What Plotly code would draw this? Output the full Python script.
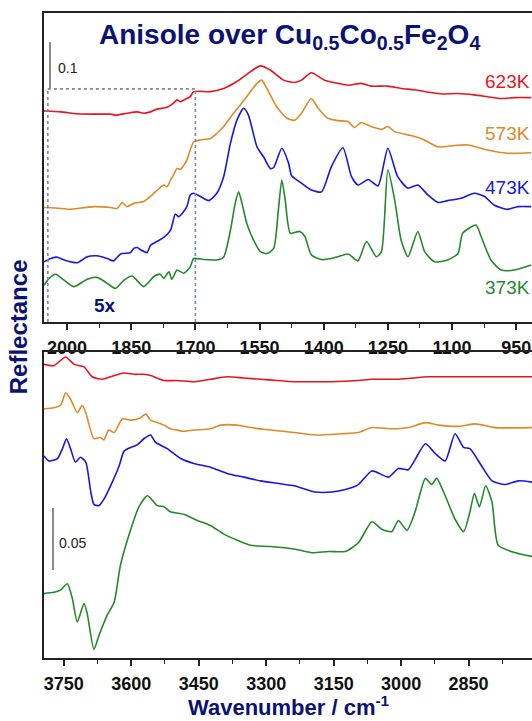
import plotly.graph_objects as go

# ---------------- fingerprint region (top panel) ----------------
wn_top_623 = [2054, 2015, 1976, 1937, 1898, 1887, 1860, 1836, 1821, 1805, 1790, 1766, 1751, 1743, 1735,
              1727, 1720, 1712, 1704, 1665, 1634, 1603, 1572, 1548, 1525, 1494, 1468, 1452, 1429, 1398,
              1367, 1343, 1312, 1289, 1250, 1219, 1188, 1149, 1125, 1087, 1048, 1017, 985, 954, 915]
r_top_623 = [0.459, 0.457, 0.453, 0.452, 0.452, 0.450, 0.454, 0.457, 0.454, 0.457, 0.463, 0.467, 0.476, 0.483, 0.479,
             0.483, 0.486, 0.490, 0.501, 0.501, 0.508, 0.523, 0.544, 0.557, 0.548, 0.526, 0.521, 0.526, 0.542, 0.526,
             0.519, 0.515, 0.519, 0.513, 0.513, 0.508, 0.505, 0.499, 0.496, 0.497, 0.494, 0.490, 0.486, 0.488, 0.488]

wn_top_573 = [2054, 2015, 1992, 1976, 1937, 1898, 1883, 1871, 1860, 1844, 1821, 1813, 1805, 1790, 1782,
              1774, 1766, 1758, 1751, 1743, 1735, 1727, 1720, 1712, 1704, 1688, 1665, 1650, 1634, 1611,
              1595, 1580, 1556, 1545, 1533, 1510, 1486, 1468, 1452, 1429, 1413, 1390, 1367, 1343, 1328,
              1312, 1289, 1265, 1250, 1234, 1203, 1172, 1133, 1094, 1063, 1017, 970, 915]
r_top_573 = [0.249, 0.247, 0.245, 0.247, 0.251, 0.249, 0.247, 0.260, 0.251, 0.258, 0.262, 0.267, 0.273, 0.286, 0.293,
             0.298, 0.294, 0.309, 0.320, 0.334, 0.332, 0.341, 0.352, 0.374, 0.392, 0.396, 0.399, 0.410, 0.425, 0.454,
             0.472, 0.490, 0.519, 0.526, 0.508, 0.468, 0.443, 0.439, 0.454, 0.486, 0.465, 0.443, 0.438, 0.436, 0.423,
             0.434, 0.425, 0.419, 0.425, 0.414, 0.407, 0.399, 0.381, 0.384, 0.385, 0.374, 0.367, 0.368]

wn_top_473 = [2054, 2038, 2023, 2007, 1976, 1953, 1930, 1906, 1891, 1875, 1852, 1844, 1836, 1828, 1813,
              1805, 1790, 1774, 1758, 1747, 1739, 1731, 1720, 1712, 1704, 1688, 1669, 1650, 1634, 1618,
              1603, 1587, 1576, 1556, 1541, 1525, 1517, 1498, 1482, 1475, 1452, 1429, 1405, 1382, 1355,
              1335, 1320, 1296, 1273, 1250, 1227, 1203, 1180, 1156, 1133, 1110, 1079, 1048, 1024, 1001,
              970, 946, 915]
r_top_473 = [0.131, 0.138, 0.141, 0.135, 0.129, 0.142, 0.144, 0.138, 0.133, 0.148, 0.151, 0.160, 0.162, 0.157, 0.151,
             0.167, 0.175, 0.184, 0.200, 0.235, 0.229, 0.236, 0.251, 0.276, 0.280, 0.273, 0.264, 0.280, 0.316, 0.389,
             0.439, 0.465, 0.450, 0.381, 0.360, 0.334, 0.336, 0.378, 0.345, 0.318, 0.302, 0.287, 0.283, 0.338, 0.379,
             0.316, 0.298, 0.310, 0.296, 0.378, 0.316, 0.291, 0.298, 0.276, 0.260, 0.264, 0.269, 0.280, 0.273, 0.254,
             0.245, 0.251, 0.251]

wn_top_373 = [2054, 2042, 2027, 2007, 1984, 1953, 1930, 1906, 1887, 1867, 1848, 1821, 1797, 1782, 1774,
              1762, 1755, 1743, 1727, 1712, 1704, 1681, 1650, 1634, 1618, 1607, 1599, 1591, 1580, 1564,
              1548, 1533, 1517, 1506, 1498, 1490, 1478, 1456, 1444, 1429, 1405, 1382, 1367, 1343, 1320,
              1300, 1277, 1265, 1250, 1234, 1219, 1203, 1180, 1164, 1141, 1110, 1086, 1075, 1044, 1032,
              1009, 985, 954, 915]
r_top_373 = [0.080, 0.095, 0.104, 0.091, 0.077, 0.093, 0.097, 0.084, 0.073, 0.091, 0.100, 0.077, 0.099, 0.104, 0.095,
             0.109, 0.093, 0.113, 0.106, 0.120, 0.138, 0.136, 0.135, 0.141, 0.200, 0.258, 0.283, 0.258, 0.215, 0.178,
             0.153, 0.149, 0.160, 0.244, 0.309, 0.265, 0.193, 0.197, 0.186, 0.146, 0.136, 0.138, 0.142, 0.148, 0.133,
             0.175, 0.142, 0.153, 0.331, 0.265, 0.178, 0.142, 0.197, 0.153, 0.131, 0.135, 0.149, 0.193, 0.211, 0.186,
             0.135, 0.113, 0.113, 0.124]

# ---------------- OH / CH stretching region (bottom panel) ----------------
wn_bot_623 = [3794, 3772, 3746, 3727, 3705, 3687, 3664, 3646, 3616, 3594, 3572, 3557, 3527, 3498, 3461,
              3424, 3387, 3350, 3313, 3276, 3238, 3221, 3154, 3095, 3065, 3006, 2939, 2880, 2821, 2709]
r_bot_623 = [0.237, 0.236, 0.243, 0.237, 0.235, 0.227, 0.225, 0.227, 0.230, 0.229, 0.229, 0.228, 0.224, 0.224, 0.223,
             0.225, 0.227, 0.226, 0.225, 0.224, 0.223, 0.223, 0.223, 0.224, 0.225, 0.225, 0.227, 0.227, 0.227, 0.227]

wn_bot_573 = [3794, 3772, 3757, 3746, 3735, 3720, 3709, 3701, 3683, 3668, 3661, 3650, 3638, 3620, 3601,
              3579, 3568, 3557, 3542, 3527, 3513, 3498, 3483, 3461, 3424, 3401, 3364, 3335, 3290, 3238,
              3191, 3132, 3095, 3065, 3021, 2984, 2946, 2917, 2872, 2835, 2791, 2709]
r_bot_573 = [0.201, 0.202, 0.204, 0.214, 0.209, 0.198, 0.204, 0.198, 0.177, 0.178, 0.176, 0.184, 0.182, 0.193, 0.192,
             0.194, 0.197, 0.192, 0.190, 0.188, 0.185, 0.184, 0.183, 0.184, 0.185, 0.188, 0.188, 0.186, 0.184, 0.182,
             0.180, 0.181, 0.182, 0.186, 0.185, 0.186, 0.190, 0.188, 0.187, 0.189, 0.186, 0.186]

wn_bot_473 = [3794, 3783, 3764, 3753, 3744, 3735, 3724, 3713, 3701, 3690, 3683, 3672, 3661, 3646, 3627,
              3616, 3601, 3587, 3572, 3557, 3546, 3520, 3490, 3461, 3424, 3387, 3350, 3313, 3276, 3238,
              3228, 3191, 3154, 3124, 3095, 3065, 3028, 3006, 2984, 2946, 2924, 2902, 2880, 2861, 2847,
              2821, 2798, 2769, 2739, 2709]
r_bot_473 = [0.163, 0.159, 0.161, 0.169, 0.177, 0.169, 0.158, 0.162, 0.158, 0.134, 0.124, 0.123, 0.128, 0.139, 0.155,
             0.167, 0.170, 0.172, 0.177, 0.180, 0.174, 0.169, 0.161, 0.157, 0.154, 0.149, 0.146, 0.143, 0.141, 0.139,
             0.138, 0.134, 0.134, 0.136, 0.140, 0.151, 0.146, 0.153, 0.152, 0.173, 0.165, 0.159, 0.181, 0.170, 0.169,
             0.155, 0.143, 0.140, 0.143, 0.142]

wn_bot_373 = [3794, 3772, 3757, 3742, 3731, 3720, 3705, 3698, 3683, 3672, 3653, 3638, 3624, 3601, 3583,
              3564, 3542, 3527, 3513, 3483, 3453, 3424, 3394, 3364, 3335, 3290, 3238, 3198, 3161, 3124,
              3095, 3065, 3043, 3021, 3006, 2987, 2969, 2946, 2932, 2921, 2902, 2880, 2861, 2847, 2837,
              2826, 2812, 2798, 2784, 2746, 2709]
r_bot_373 = [0.052, 0.053, 0.055, 0.060, 0.048, 0.029, 0.044, 0.036, 0.007, 0.018, 0.035, 0.045, 0.075, 0.104, 0.122,
             0.131, 0.123, 0.122, 0.118, 0.116, 0.111, 0.107, 0.100, 0.095, 0.091, 0.090, 0.088, 0.085, 0.086, 0.086,
             0.093, 0.110, 0.104, 0.102, 0.111, 0.103, 0.118, 0.145, 0.140, 0.145, 0.131, 0.112, 0.102, 0.118, 0.133,
             0.122, 0.139, 0.126, 0.091, 0.085, 0.082]

temps = ["623K", "573K", "473K", "373K"]
colors = ["#e8141e", "#de8a26", "#1717e0", "#23892a"]
label_r_top = [0.522, 0.409, 0.293, 0.074]

top_series = [(wn_top_623, r_top_623), (wn_top_573, r_top_573), (wn_top_473, r_top_473), (wn_top_373, r_top_373)]
bot_series = [(wn_bot_623, r_bot_623), (wn_bot_573, r_bot_573), (wn_bot_473, r_bot_473), (wn_bot_373, r_bot_373)]

# 5x magnified window and scale bars
zoom_lo, zoom_hi, zoom_top = 2045, 1700, 0.507
bar_top = dict(x=2040, y0=0.509, y1=0.609, label="0.1", lx=2027, ly=0.552)
bar_bot = dict(x=3774, y0=0.071, y1=0.121, label="0.05", lx=3764, ly=0.093)

NAVY = "#0b1273"
FONT = "Arial, 'Liberation Sans', sans-serif"

fig = go.Figure()
for (wn, r), c in zip(top_series, colors):
    fig.add_trace(go.Scatter(x=wn, y=r, mode="lines", xaxis="x", yaxis="y",
                             line=dict(color=c, width=1.6, shape="spline", smoothing=0.6),
                             showlegend=False, hoverinfo="skip"))
for (wn, r), c in zip(bot_series, colors):
    fig.add_trace(go.Scatter(x=wn, y=r, mode="lines", xaxis="x2", yaxis="y2",
                             line=dict(color=c, width=1.6, shape="spline", smoothing=0.6),
                             showlegend=False, hoverinfo="skip"))

axis_line = dict(showline=True, linecolor="#222", linewidth=2, automargin=False)
tickfont = dict(family=FONT, size=18, color="#111")


def x_axis(rng, t0, anchor):
    return dict(domain=[0, 1], anchor=anchor, range=rng, tickmode="linear", tick0=t0, dtick=150,
                ticks="outside", ticklen=6, tickwidth=1.5, tickcolor="#222",
                minor=dict(dtick=75, tick0=t0, ticks="outside", ticklen=4, tickwidth=1.2, tickcolor="#222"),
                tickfont=tickfont, tickprefix="<b>", ticksuffix="</b>", ticklabelstandoff=2,
                showgrid=False, zeroline=False, mirror=True, **axis_line)


def y_axis(dom, rng, anchor):
    return dict(domain=dom, anchor=anchor, range=rng, showticklabels=False,
                ticks="", showgrid=False, zeroline=False, **axis_line)


fig.update_layout(
    template="none",
    width=532, height=721,
    margin=dict(l=44, r=0, t=13, b=63, autoexpand=False),
    paper_bgcolor="white", plot_bgcolor="white",
    xaxis=x_axis([2054, 913], 950, "y"),
    yaxis=y_axis([0.5209, 1], [0, 0.672], "x"),
    xaxis2=x_axis([3794, 2709], 2850, "y2"),
    yaxis2=y_axis([0, 0.4744], [0, 0.247], "x2"),
)

shapes = []
# dotted frame around the magnified section
dot = dict(color="#7d83b5", width=1.6, dash="dot")
shapes.append(dict(type="line", xref="x", yref="y", x0=zoom_lo, x1=zoom_lo, y0=0, y1=zoom_top, line=dot))
shapes.append(dict(type="line", xref="x", yref="y", x0=zoom_hi, x1=zoom_hi, y0=0, y1=zoom_top, line=dot))
shapes.append(dict(type="line", xref="x", yref="y", x0=zoom_lo, x1=zoom_hi, y0=zoom_top, y1=zoom_top, line=dot))
# scale bars
bar_line = dict(color="#666", width=1.5)
shapes.append(dict(type="line", xref="x", yref="y", x0=bar_top["x"], x1=bar_top["x"],
                   y0=bar_top["y0"], y1=bar_top["y1"], line=bar_line))
shapes.append(dict(type="line", xref="x2", yref="y2", x0=bar_bot["x"], x1=bar_bot["x"],
                   y0=bar_bot["y0"], y1=bar_bot["y1"], line=bar_line))
fig.update_layout(shapes=shapes)

ann = []
for t, c, y in zip(temps, colors, label_r_top):
    ann.append(dict(text=t, xref="paper", yref="y", x=1.0, y=y, xanchor="right", yanchor="middle",
                    showarrow=False, font=dict(family=FONT, size=19, color=c)))
ann.append(dict(text=bar_top["label"], xref="x", yref="y", x=bar_top["lx"], y=bar_top["ly"],
                xanchor="left", yanchor="middle", showarrow=False,
                font=dict(family=FONT, size=14, color="#222")))
ann.append(dict(text=bar_bot["label"], xref="x2", yref="y2", x=bar_bot["lx"], y=bar_bot["ly"],
                xanchor="left", yanchor="middle", showarrow=False,
                font=dict(family=FONT, size=14, color="#222")))
ann.append(dict(text="<b>5x</b>", xref="x", yref="y", x=1912, y=0.037, xanchor="center", yanchor="middle",
                showarrow=False, font=dict(family=FONT, size=19, color=NAVY)))
ann.append(dict(text="<b>Anisole over Cu<sub>0.5</sub>Co<sub>0.5</sub>Fe<sub>2</sub>O<sub>4</sub></b>",
                xref="paper", yref="paper", x=0.504, y=0.963, xanchor="center", yanchor="middle",
                showarrow=False, font=dict(family=FONT, size=28, color=NAVY)))
ann.append(dict(text="<b>Reflectance</b>", xref="paper", yref="paper", x=-0.053, y=0.513,
                xanchor="center", yanchor="middle", textangle=-90, showarrow=False,
                font=dict(family=FONT, size=24, color=NAVY)))
ann.append(dict(text="<b>Wavenumber / cm<sup>-1</sup></b>", xref="paper", yref="paper", x=0.502, y=-0.0745,
                xanchor="center", yanchor="middle", showarrow=False,
                font=dict(family=FONT, size=22, color=NAVY)))
fig.update_layout(annotations=ann)

fig.write_html("out.html")
